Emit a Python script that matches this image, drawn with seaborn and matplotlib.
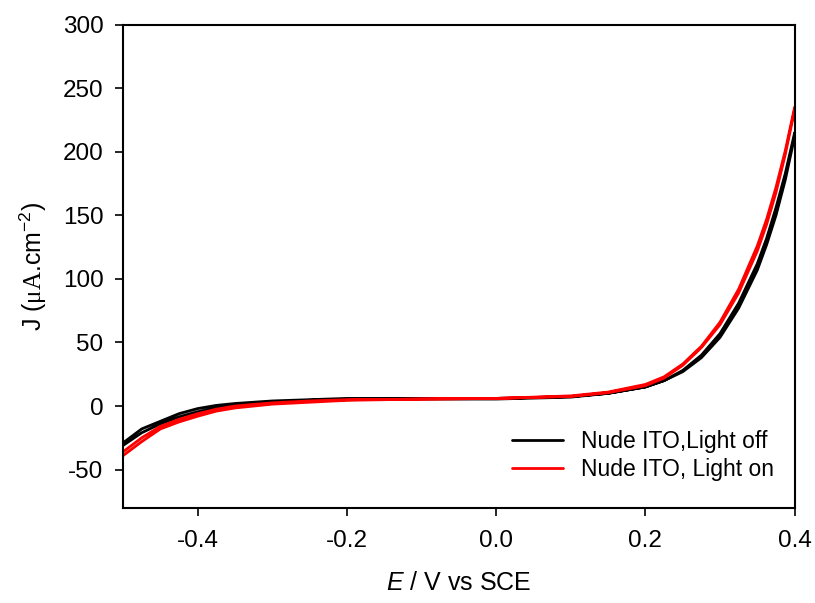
import pandas as pd
import matplotlib
matplotlib.use("Agg")
import matplotlib.pyplot as plt
import seaborn as sns

# Potential grid (V vs SCE), forward scan
E_fwd = [-0.5, -0.475, -0.45, -0.425, -0.4, -0.375, -0.35, -0.3, -0.25, -0.2, -0.1,
         0.0, 0.1, 0.15, 0.2, 0.225, 0.25, 0.275, 0.3, 0.325, 0.35, 0.3625, 0.375,
         0.3875, 0.4]

# Current density (uA/cm2)
off_fwd = [-29, -18, -12, -6, -2, 0.5, 2, 4, 5, 6, 6,
           6, 7.5, 10, 15, 20, 28, 40, 57, 81, 112, 132, 156, 183, 215]
off_rev = [-31, -21, -14, -8.5, -4.5, -1.5, 0.5, 3, 4.5, 5, 5.5,
           5.5, 7, 10, 15, 20, 27, 38, 54, 77, 107, 127, 150, 178, 212]
on_fwd = [-39, -28, -18, -12.5, -8, -4, -1.5, 1.5, 3, 4.5, 5.5,
          6, 8, 11, 17, 23, 33, 47, 66, 92, 126, 147, 172, 201, 235]
on_rev = [-36, -25, -16, -10.5, -6, -2.5, 0, 2.5, 4, 5, 5.5,
          6, 7.5, 10.5, 16, 22, 32, 46, 64, 89, 122, 143, 168, 198, 233]

labels = ["Nude ITO,Light off", "Nude ITO, Light on"]

rows = []
for lab, fwd, rev in [(labels[0], off_fwd, off_rev), (labels[1], on_fwd, on_rev)]:
    # forward then reverse, so the loop is drawn in scan order
    loop = list(zip(E_fwd, fwd)) + list(zip(E_fwd[::-1], rev[::-1]))
    for i, (e, j) in enumerate(loop):
        rows.append({"E": e, "J": j, "scan": lab, "order": i})
df = pd.DataFrame(rows)

sns.set_style("ticks")
plt.rcParams["font.family"] = ["Liberation Sans", "DejaVu Sans"]
plt.rcParams["axes.unicode_minus"] = False
plt.rcParams["text.color"] = "black"
plt.rcParams["axes.labelcolor"] = "black"
plt.rcParams["mathtext.fontset"] = "custom"
plt.rcParams["mathtext.rm"] = "Liberation Sans"
plt.rcParams["mathtext.it"] = "Liberation Sans:italic"
plt.rcParams["mathtext.sf"] = "Liberation Serif"

fig = plt.figure(figsize=(8.15, 6.03), dpi=100)
ax = fig.add_axes([0.151, 0.158, 0.824, 0.801])

sns.lineplot(data=df, x="E", y="J", hue="scan", palette=["black", "red"],
             sort=False, estimator=None, linewidth=2, ax=ax)

ax.set_xlim(-0.5, 0.4)
ax.set_ylim(-80, 300)
ax.set_xticks([-0.4, -0.2, 0.0, 0.2, 0.4])
ax.set_yticks(range(-50, 301, 50))
ax.set_xticklabels(["-0.4", "-0.2", "0.0", "0.2", "0.4"])
ax.tick_params(labelsize=17.5, length=6, width=1.2, direction="out", colors="black")
ax.tick_params(axis="x", pad=10)
ax.tick_params(axis="y", pad=8)
for s in ax.spines.values():
    s.set_linewidth(1.5)
    s.set_color("black")

ax.set_xlabel(r"$E$ / V vs SCE", fontsize=18, labelpad=14)
ax.set_ylabel(r"J ($\mathsf{\mu A}$.cm$^{-2}$)", fontsize=18, labelpad=10)

ax.legend(loc="lower right", frameon=False, fontsize=16.5, handlelength=2.2,
          bbox_to_anchor=(1.0, 0.012), labelspacing=0.25, handletextpad=0.8)

fig.savefig("out.png", dpi=100)
